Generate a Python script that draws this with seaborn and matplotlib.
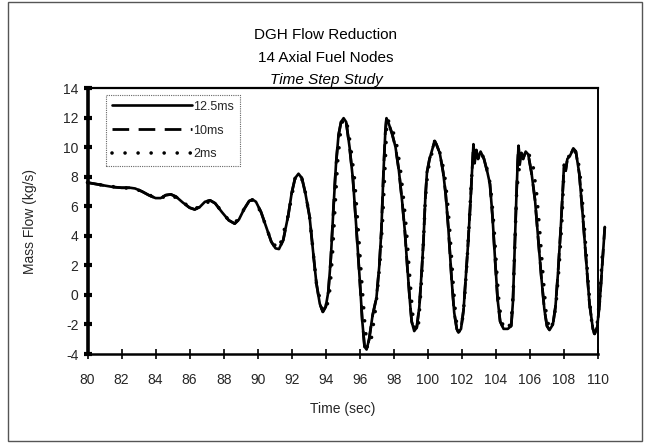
import matplotlib
matplotlib.use("Agg")
import matplotlib.pyplot as plt
from matplotlib.patches import Rectangle
import seaborn as sns
import pandas as pd

# ---------------- data ----------------
title_lines = ["DGH Flow Reduction", "14 Axial Fuel Nodes", "Time Step Study"]
x_label = "Time (sec)"
y_label = "Mass Flow (kg/s)"
series_names = ["12.5ms", "10ms", "2ms"]
x_ticks = [80, 82, 84, 86, 88, 90, 92, 94, 96, 98, 100, 102, 104, 106, 108, 110]
y_ticks = [-4, -2, 0, 2, 4, 6, 8, 10, 12, 14]

t_125 = [80.0, 80.5, 81.0, 81.5, 82.0, 82.5, 82.8, 83.2, 83.6, 84.0, 84.3, 84.6, 84.9,
         85.2, 85.6, 86.0, 86.3, 86.6, 86.9, 87.2, 87.5, 87.9, 88.3, 88.65, 88.9, 89.2,
         89.5, 89.7, 89.9, 90.2, 90.5, 90.8, 91.05, 91.25, 91.5, 91.8, 92.0, 92.2, 92.4,
         92.6, 92.8, 93.05, 93.25, 93.45, 93.65, 93.83, 94.0, 94.15, 94.3, 94.45, 94.6,
         94.75, 94.9, 95.05, 95.2, 95.4, 95.6, 95.8, 96.0, 96.15, 96.28, 96.4, 96.55,
         96.75, 96.98, 97.15, 97.27, 97.4, 97.5, 97.57, 97.7, 97.9, 98.1, 98.3, 98.5,
         98.65, 98.8, 98.95, 99.05, 99.2, 99.35, 99.5, 99.65, 99.75, 99.85, 99.95, 100.1,
         100.3, 100.4, 100.5, 100.7, 100.9, 101.05, 101.2, 101.4, 101.55, 101.7, 101.8,
         101.95, 102.1, 102.25, 102.35, 102.5, 102.6, 102.68, 102.75, 102.85, 102.95,
         103.1, 103.3, 103.5, 103.65, 103.8, 103.95, 104.1, 104.25, 104.45, 104.7, 104.9,
         105.0, 105.1, 105.2, 105.28, 105.33, 105.4, 105.5, 105.6, 105.75, 105.9, 106.1,
         106.3, 106.5, 106.67, 106.85, 107.0, 107.15, 107.35, 107.5, 107.65, 107.8,
         107.95, 108.0, 108.1, 108.2, 108.35, 108.55, 108.7, 108.9, 109.1, 109.3, 109.5,
         109.7, 109.8, 109.95, 110.1, 110.25, 110.4]
m_125 = [7.6, 7.5, 7.4, 7.3, 7.25, 7.25, 7.2, 7.0, 6.75, 6.55, 6.55, 6.75, 6.8,
         6.65, 6.25, 5.9, 5.78, 5.95, 6.3, 6.4, 6.2, 5.6, 5.05, 4.82, 5.1, 5.8,
         6.35, 6.45, 6.3, 5.6, 4.6, 3.6, 3.15, 3.1, 3.7, 5.4, 6.9, 7.9, 8.2,
         7.9, 6.9, 5.3, 3.0, 0.8, -0.6, -1.15, -0.8, 0.2, 2.5, 5.8, 8.8,
         10.8, 11.7, 11.96, 11.7, 10.0, 7.8, 4.5, 1.0, -1.8, -3.5, -3.7, -3.0,
         -1.4, -0.2, 2.0, 4.4, 8.5, 11.0, 11.96, 11.6, 10.9, 10.0, 8.4, 6.2,
         4.3, 1.8, -0.5, -1.8, -2.45, -2.2, -0.8, 1.8, 3.8, 6.5, 8.3, 9.2,
         10.0, 10.4, 10.2, 9.6, 8.3, 6.8, 4.6, 1.0, -1.2, -2.3, -2.55,
         -2.3, -1.0, 1.5, 3.2, 6.2, 8.4, 10.2, 8.9, 9.8, 9.2,
         9.7, 9.2, 8.3, 7.5, 5.3, 2.4, -0.3, -1.8, -2.3, -2.3, -2.1,
         -0.5, 3.0, 6.5, 9.0, 10.1, 8.8, 9.6, 9.2, 9.7, 9.5, 8.2,
         6.4, 3.6, 1.2, -1.0, -2.1, -2.38, -2.0, -0.8, 1.5, 4.3,
         7.5, 8.8, 8.4, 9.2, 9.4, 9.9, 9.7, 8.2, 5.4, 2.4, -0.6,
         -2.3, -2.64, -2.2, -0.5, 2.0, 4.6]

# 10 ms run: lies on top of the 12.5 ms trace in the picture
t_10 = list(t_125)
m_10 = [7.6, 7.5, 7.4, 7.3, 7.25, 7.25, 7.2, 7.0, 6.75, 6.55, 6.55, 6.75, 6.8,
        6.65, 6.25, 5.9, 5.78, 5.95, 6.3, 6.4, 6.2, 5.6, 5.05, 4.82, 5.1, 5.8,
        6.35, 6.45, 6.3, 5.6, 4.6, 3.6, 3.15, 3.1, 3.7, 5.4, 6.9, 7.9, 8.2,
        7.9, 6.9, 5.3, 3.0, 0.8, -0.6, -1.15, -0.8, 0.2, 2.5, 5.8, 8.8,
        10.8, 11.7, 11.96, 11.7, 10.0, 7.8, 4.5, 1.0, -1.8, -3.5, -3.7, -3.0,
        -1.4, -0.2, 2.0, 4.4, 8.5, 11.0, 11.96, 11.6, 10.9, 10.0, 8.4, 6.2,
        4.3, 1.8, -0.5, -1.8, -2.45, -2.2, -0.8, 1.8, 3.8, 6.5, 8.3, 9.2,
        10.0, 10.4, 10.2, 9.6, 8.3, 6.8, 4.6, 1.0, -1.2, -2.3, -2.55,
        -2.3, -1.0, 1.5, 3.2, 6.2, 8.4, 10.2, 8.9, 9.8, 9.2,
        9.7, 9.2, 8.3, 7.5, 5.3, 2.4, -0.3, -1.8, -2.3, -2.3, -2.1,
        -0.5, 3.0, 6.5, 9.0, 10.1, 8.8, 9.6, 9.2, 9.7, 9.5, 8.2,
        6.4, 3.6, 1.2, -1.0, -2.1, -2.38, -2.0, -0.8, 1.5, 4.3,
        7.5, 8.8, 8.4, 9.2, 9.4, 9.9, 9.7, 8.2, 5.4, 2.4, -0.6,
        -2.3, -2.64, -2.2, -0.5, 2.0, 4.6]

# 2 ms run: slightly earlier rises / later falls in the oscillating part
t_2 = [80.0, 81.0, 82.0, 82.8, 83.6, 84.3, 84.9, 85.6, 86.3, 86.9, 87.5, 88.3, 88.65,
       89.2, 89.7, 90.2, 90.8, 91.25, 91.8, 92.2, 92.4, 92.7, 93.05, 93.45, 93.83,
       94.1, 94.25, 94.4, 94.55, 94.7, 94.9, 95.05, 95.25, 95.45, 95.7, 95.9, 96.1,
       96.3, 96.45, 96.65, 96.9, 97.05, 97.2, 97.35, 97.5, 97.6, 97.8, 98.0, 98.2,
       98.4, 98.6, 98.75, 98.9, 99.1, 99.25, 99.45, 99.6, 99.72, 99.85, 100.0, 100.2,
       100.4, 100.6, 100.8, 101.0, 101.15, 101.3, 101.5, 101.65, 101.8, 102.0, 102.15,
       102.3, 102.45, 102.55, 102.7, 102.9, 103.1, 103.35, 103.6, 103.75, 103.9, 104.05,
       104.2, 104.45, 104.7, 104.9, 105.02, 105.12, 105.22, 105.45, 105.7, 105.95,
       106.2, 106.4, 106.6, 106.78, 106.95, 107.15, 107.4, 107.55, 107.72, 107.88,
       108.0, 108.25, 108.55, 108.8, 109.0, 109.2, 109.4, 109.6, 109.8, 109.95, 110.1,
       110.25]
m_2 = [7.6, 7.4, 7.25, 7.2, 6.75, 6.55, 6.8, 6.25, 5.78, 6.3, 6.2, 5.05, 4.82,
       5.8, 6.45, 5.6, 3.6, 3.1, 5.4, 7.9, 8.2, 7.6, 5.3, 0.8, -1.15,
       -0.6, 0.4, 2.8, 6.0, 9.0, 11.4, 11.96, 11.6, 10.2, 7.8, 4.6, 1.2,
       -2.0, -3.6, -3.2, -1.2, 0.4, 2.4, 5.2, 9.0, 11.9, 11.6, 10.9, 10.0,
       8.4, 6.2, 4.3, 1.8, -1.2, -2.45, -2.0, 0.4, 3.0, 6.4, 8.4, 9.4,
       10.4, 10.0, 9.3, 8.0, 6.4, 4.2, 0.6, -1.6, -2.55, -2.0, -0.4,
       2.2, 5.2, 7.6, 9.8, 9.6, 9.7, 9.1, 8.0, 6.6, 4.4, 1.6,
       -0.8, -2.3, -2.3, -1.8, 0.2, 3.6, 7.0, 9.4, 9.7, 9.5,
       8.6, 6.8, 4.0, 1.2, -1.2, -2.38, -1.8, -0.4, 2.0, 5.0,
       8.4, 9.3, 9.9, 9.4, 7.6, 4.6, 1.2, -1.6, -2.64, -2.0, -0.2,
       2.6]

# ---------------- styling ----------------
sns.set_theme(style="white")
plt.rcParams["font.family"] = ["Liberation Sans", "DejaVu Sans"]
plt.rcParams["axes.unicode_minus"] = False

W, H = 645, 447
fig = plt.figure(figsize=(W / 100, H / 100), dpi=100)
fig.patch.set_facecolor("white")

ax_l, ax_r, ax_t, ax_b = 87.5, 598.0, 88.0, 354.0
ax = fig.add_axes([ax_l / W, 1 - ax_b / H, (ax_r - ax_l) / W, (ax_b - ax_t) / H])
ax.set_facecolor("white")

df_125 = pd.DataFrame({"t": t_125, "m": m_125})
df_10 = pd.DataFrame({"t": t_10, "m": m_10})
df_2 = pd.DataFrame({"t": t_2, "m": m_2})

sns.lineplot(data=df_2, x="t", y="m", ax=ax, color="black", lw=2.6,
             linestyle=(0, (0.01, 3.6)), dash_capstyle="round",
             sort=False, estimator=None, label=series_names[2], clip_on=False, zorder=2)
sns.lineplot(data=df_10, x="t", y="m", ax=ax, color="black", lw=2.0,
             linestyle=(0, (6.0, 3.4)), sort=False, estimator=None,
             label=series_names[1], clip_on=False, zorder=3)
sns.lineplot(data=df_125, x="t", y="m", ax=ax, color="black", lw=1.9,
             linestyle="-", sort=False, estimator=None,
             label=series_names[0], clip_on=False, zorder=4)

ax.set_xlim(80, 110)
ax.set_ylim(-4, 14)
ax.set_xticks(x_ticks)
ax.set_yticks(y_ticks)
ax.tick_params(axis="y", direction="inout", length=6, width=3.0, color="black",
               labelsize=10, pad=3.5, left=True)
ax.tick_params(axis="x", direction="inout", length=7, width=1.2, color="black",
               labelsize=10, pad=10, bottom=True)

for side, lw in {"left": 2.6, "bottom": 1.8, "top": 1.6, "right": 1.4}.items():
    ax.spines[side].set_visible(True)
    ax.spines[side].set_color("black")
    ax.spines[side].set_linewidth(lw)
    ax.spines[side].set_zorder(5)

ax.set_xlabel(x_label, fontsize=10)
ax.set_ylabel(y_label, fontsize=10)
ax.xaxis.set_label_coords(0.5, (ax_b - 402) / (ax_b - ax_t))
ax.yaxis.set_label_coords((37 - ax_l) / (ax_r - ax_l), 0.5)

handles, labels = ax.get_legend_handles_labels()
order = [labels.index(n) for n in series_names]
leg = ax.legend([handles[i] for i in order], [labels[i] for i in order],
                loc="upper left",
                bbox_to_anchor=((106 - ax_l) / (ax_r - ax_l), 1 - (95 - ax_t) / (ax_b - ax_t)),
                fontsize=9, handlelength=6.4, handletextpad=0.15, labelspacing=0.95,
                borderpad=0.45, borderaxespad=0.0, fancybox=False, framealpha=1,
                edgecolor="#666666")
leg.get_frame().set_linewidth(0.8)
leg.get_frame().set_linestyle((0, (1, 1)))

# titles (centred on the chart area, third line italic)
cx = 326 / W
for txt, ypix, style in zip(title_lines, [35, 58, 80], ["normal", "normal", "italic"]):
    fig.text(cx, 1 - ypix / H, txt, ha="center", va="center", fontsize=11,
             style=style, color="black")

# chart-area border
fig.patches.append(Rectangle((8 / W, 1 - 441 / H), (642 - 8) / W, (441 - 2) / H,
                             transform=fig.transFigure, fill=False,
                             edgecolor="#555555", linewidth=1.0))

fig.savefig("out.png", dpi=100, facecolor="white")
